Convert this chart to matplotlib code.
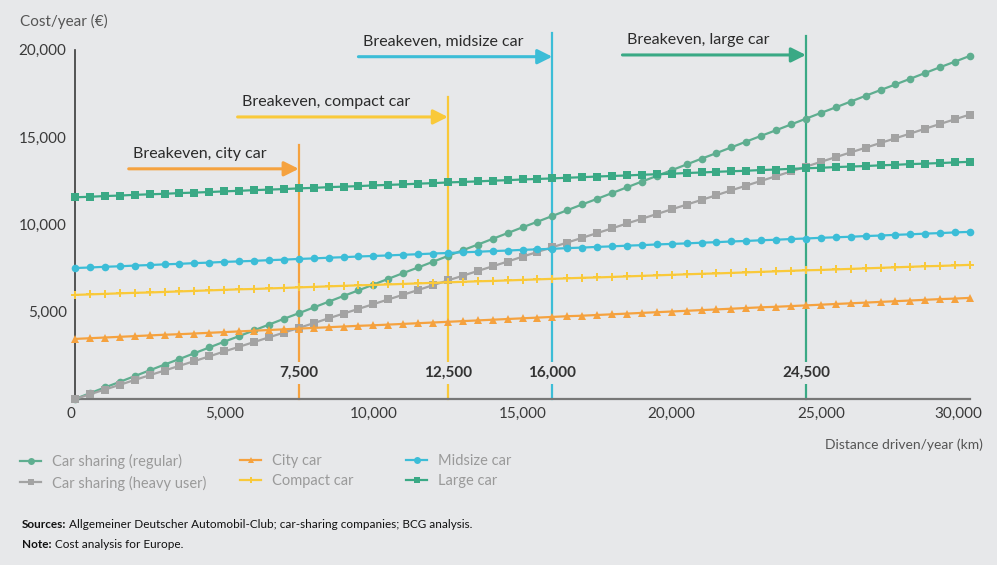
import matplotlib.pyplot as plt
import matplotlib.transforms as mtransforms
from matplotlib.lines import Line2D

plt.rcParams['font.family'] = ['Lato', 'DejaVu Sans']

# Distance driven per year (km), one point every 500 km
km = [0, 500, 1000, 1500, 2000, 2500, 3000, 3500, 4000, 4500,
      5000, 5500, 6000, 6500, 7000, 7500, 8000, 8500, 9000, 9500,
      10000, 10500, 11000, 11500, 12000, 12500, 13000, 13500, 14000, 14500,
      15000, 15500, 16000, 16500, 17000, 17500, 18000, 18500, 19000, 19500,
      20000, 20500, 21000, 21500, 22000, 22500, 23000, 23500, 24000, 24500,
      25000, 25500, 26000, 26500, 27000, 27500, 28000, 28500, 29000, 29500,
      30000]

# Cost per year (EUR)
sharing_regular = [0, 330, 660, 980, 1310, 1640, 1970, 2290, 2620, 2950,
                   3280, 3600, 3930, 4260, 4590, 4910, 5240, 5570, 5900, 6220,
                   6550, 6880, 7210, 7530, 7860, 8190, 8520, 8840, 9170, 9500,
                   9830, 10150, 10480, 10810, 11140, 11460, 11790, 12120, 12450, 12770,
                   13100, 13430, 13760, 14080, 14410, 14740, 15070, 15390, 15720, 16050,
                   16380, 16700, 17030, 17360, 17690, 18010, 18340, 18670, 19000, 19320,
                   19650]
sharing_heavy = [0, 270, 540, 810, 1090, 1360, 1630, 1900, 2170, 2440,
                 2720, 2990, 3260, 3530, 3800, 4070, 4340, 4620, 4890, 5160,
                 5430, 5700, 5970, 6240, 6520, 6790, 7060, 7330, 7600, 7870,
                 8150, 8420, 8690, 8960, 9230, 9500, 9770, 10050, 10320, 10590,
                 10860, 11130, 11400, 11670, 11950, 12220, 12490, 12760, 13030, 13300,
                 13580, 13850, 14120, 14390, 14660, 14930, 15200, 15480, 15750, 16020,
                 16290]
city_car = [3440, 3480, 3520, 3560, 3600, 3640, 3680, 3710, 3750, 3790,
            3830, 3870, 3910, 3950, 3990, 4030, 4070, 4110, 4150, 4190,
            4220, 4260, 4300, 4340, 4380, 4420, 4460, 4500, 4540, 4580,
            4620, 4660, 4700, 4740, 4770, 4810, 4850, 4890, 4930, 4970,
            5010, 5050, 5090, 5130, 5170, 5210, 5250, 5280, 5320, 5360,
            5400, 5440, 5480, 5520, 5560, 5600, 5640, 5680, 5720, 5750,
            5790]
compact_car = [5960, 5990, 6020, 6050, 6080, 6100, 6130, 6160, 6190, 6220,
               6250, 6280, 6300, 6330, 6360, 6390, 6420, 6450, 6480, 6510,
               6530, 6560, 6590, 6620, 6650, 6680, 6710, 6740, 6760, 6790,
               6820, 6850, 6880, 6910, 6940, 6960, 6990, 7020, 7050, 7080,
               7110, 7140, 7170, 7190, 7220, 7250, 7280, 7310, 7340, 7370,
               7390, 7420, 7450, 7480, 7510, 7540, 7570, 7600, 7620, 7650,
               7680]
midsize_car = [7500, 7530, 7570, 7600, 7640, 7670, 7710, 7740, 7780, 7810,
               7850, 7880, 7910, 7950, 7980, 8020, 8050, 8090, 8120, 8160,
               8190, 8220, 8260, 8290, 8330, 8360, 8400, 8430, 8470, 8500,
               8540, 8570, 8600, 8640, 8670, 8710, 8740, 8780, 8810, 8850,
               8880, 8910, 8950, 8980, 9020, 9050, 9090, 9120, 9160, 9190,
               9230, 9260, 9290, 9330, 9360, 9400, 9430, 9470, 9500, 9540,
               9570]
large_car = [11550, 11580, 11620, 11650, 11690, 11720, 11750, 11790, 11820, 11850,
             11890, 11920, 11960, 11990, 12020, 12060, 12090, 12130, 12160, 12190,
             12230, 12260, 12290, 12330, 12360, 12400, 12430, 12460, 12500, 12530,
             12570, 12600, 12630, 12670, 12700, 12740, 12770, 12800, 12840, 12870,
             12900, 12940, 12970, 13010, 13040, 13070, 13110, 13140, 13180, 13210,
             13240, 13280, 13310, 13340, 13380, 13410, 13450, 13480, 13510, 13550,
             13580]

# Breakeven distances versus heavy-user car sharing
breakeven_km = [7500, 12500, 16000, 24500]
breakeven_labels = ['Breakeven, city car', 'Breakeven, compact car',
                    'Breakeven, midsize car', 'Breakeven, large car']
breakeven_top = [14550, 17300, 20950, 20800]
arrow_start = [1800, 5450, 9500, 18350]
arrow_y = [13180, 16150, 19600, 19700]

x_ticks = [0, 5000, 10000, 15000, 20000, 25000, 30000]
y_ticks = [5000, 10000, 15000, 20000]

BG = '#e7e8ea'
C_REG = '#5fae90'
C_HEAVY = '#a3a3a3'
C_CITY = '#f5a23f'
C_COMPACT = '#f9c93a'
C_MID = '#3cbdd7'
C_LARGE = '#3aa985'

fig = plt.figure(figsize=(9.97, 5.65), dpi=100, facecolor=BG)
ax = fig.add_axes([75 / 997, 1 - 399 / 565, 895 / 997, 365 / 565])
ax.set_facecolor(BG)
ax.set_xlim(0, 30000)
ax.set_ylim(0, 20900)

series = [
    ('Car sharing (regular)', sharing_regular, C_REG, 'o', 5.5),
    ('Car sharing (heavy user)', sharing_heavy, C_HEAVY, 's', 5.5),
    ('City car', city_car, C_CITY, '^', 6),
    ('Compact car', compact_car, C_COMPACT, 'P', 5.5),
    ('Midsize car', midsize_car, C_MID, 'o', 5.5),
    ('Large car', large_car, C_LARGE, 's', 5.5),
]
handles = {}
draw_order = [5, 4, 3, 2, 1, 0]
for i in draw_order:
    name, vals, col, mk, ms = series[i]
    ln, = ax.plot(km, vals, color=col, lw=1.6, marker=mk, ms=ms,
                  markeredgewidth=0, clip_on=False, zorder=3 + i * 0.1)
    handles[name] = ln

# Breakeven markers: vertical lines, arrows and labels
be_colors = [C_CITY, C_COMPACT, C_MID, C_LARGE]
for xb, lab, top, x0, ya, col in zip(breakeven_km, breakeven_labels,
                                      breakeven_top, arrow_start, arrow_y,
                                      be_colors):
    ax.plot([xb, xb], [0, top], color=col, lw=1.6, zorder=2, clip_on=False)
    ax.annotate('', xy=(xb, ya), xytext=(x0, ya),
                arrowprops=dict(arrowstyle='-|>', color=col, lw=2.2,
                                mutation_scale=22, shrinkA=0, shrinkB=0),
                annotation_clip=False, zorder=4)
    ax.text(x0 + 150, ya + 450, lab, fontsize=11.5, color='#2b2b2b',
            ha='left', va='bottom', zorder=5)
    ax.text(xb, 1500, f'{xb:,}', fontsize=11, fontweight='bold',
            color='#333333', ha='center', va='center', zorder=6,
            bbox=dict(boxstyle='square,pad=0.25', fc=BG, ec='none'))

# Axes styling
for side in ['top', 'right']:
    ax.spines[side].set_visible(False)
ax.spines['left'].set_bounds(0, 20000)
ax.spines['left'].set_color('#3a3a3a')
ax.spines['bottom'].set_color('#777777')
ax.spines['left'].set_linewidth(1.2)
ax.spines['bottom'].set_linewidth(1.6)
ax.set_xticks(x_ticks)
ax.set_xticklabels([f'{v:,}' for v in x_ticks])
ax.set_yticks(y_ticks)
ax.set_yticklabels([f'{v:,}' for v in y_ticks])
ax.tick_params(length=0, labelsize=11, colors='#3a3a3a', pad=6)
ax.tick_params(axis='x', pad=6)
xl = ax.get_xticklabels()
xl[0].set_horizontalalignment('right')
xl[-1].set_horizontalalignment('right')
xl[-1].set_transform(xl[-1].get_transform() +
                     mtransforms.ScaledTranslation(0.12, 0, fig.dpi_scale_trans))

fig.text(20 / 997, 1 - 21 / 565, 'Cost/year (€)', fontsize=11,
         color='#555555', ha='left', va='center')
fig.text(983 / 997, 1 - 445 / 565, 'Distance driven/year (km)', fontsize=10,
         color='#555555', ha='right', va='center')

# Legend in three separate columns
cols = [(['Car sharing (regular)', 'Car sharing (heavy user)'], 13),
        (['City car', 'Compact car'], 233),
        (['Midsize car', 'Large car'], 399)]
for names, xpx in cols:
    hs = []
    for n in names:
        h = handles[n]
        hs.append(Line2D([], [], color=h.get_color(), marker=h.get_marker(),
                         ms=5, markeredgewidth=0, lw=1.6))
    leg = fig.legend(hs, names, loc='upper left',
                     bbox_to_anchor=(xpx / 997, 1 - 447 / 565),
                     frameon=False, fontsize=10.5, handlelength=1.4,
                     handletextpad=0.8, labelspacing=0.42, borderpad=0,
                     labelcolor='#9a9a9a')

# Source and note lines with bold lead words
fig.canvas.draw()
renderer = fig.canvas.get_renderer()
for lead, rest, ypx in [('Sources:', ' Allgemeiner Deutscher Automobil-Club; car-sharing companies; BCG analysis.', 525),
                        ('Note:', ' Cost analysis for Europe.', 545)]:
    t = fig.text(22 / 997, 1 - ypx / 565, lead, fontsize=8.5, fontweight='bold',
                 color='#111111', ha='left', va='center')
    bb = t.get_window_extent(renderer)
    fig.text(bb.x1 / fig.bbox.width, 1 - ypx / 565, rest, fontsize=8.5,
             color='#111111', ha='left', va='center')

fig.savefig('out.png', dpi=100, facecolor=BG)
